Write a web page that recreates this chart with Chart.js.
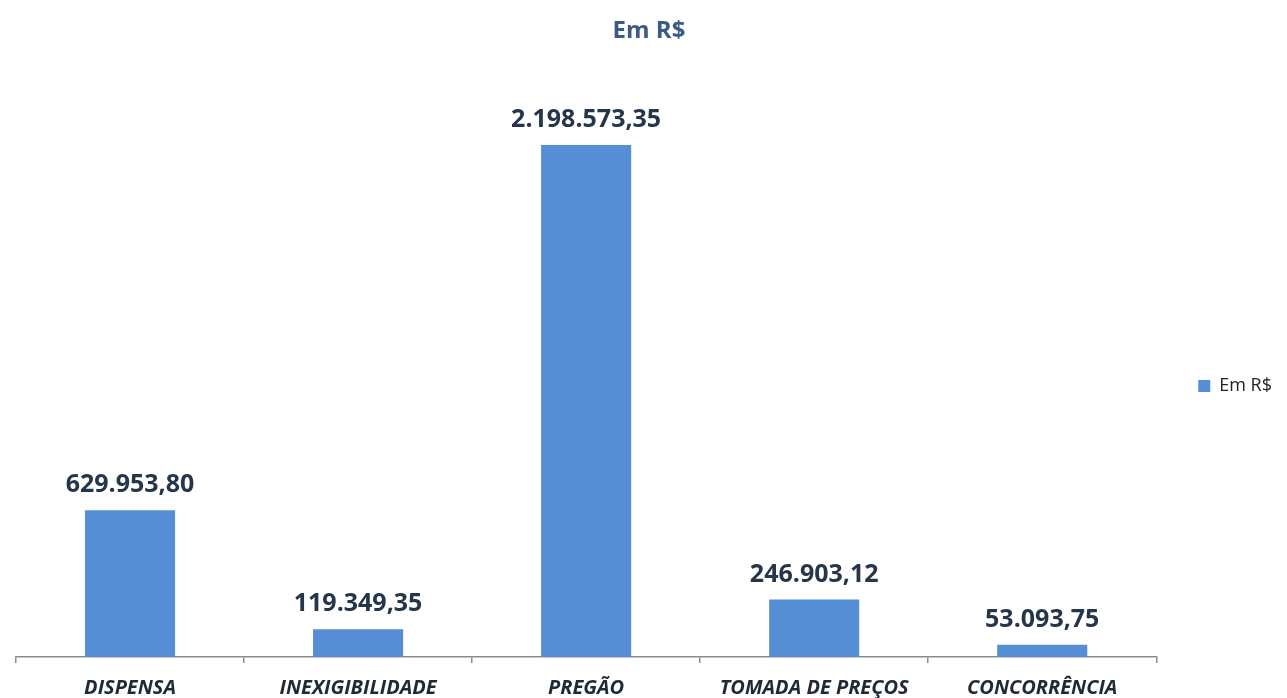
<!DOCTYPE html>
<html>
<head>
<meta charset="utf-8">
<script src="https://cdn.jsdelivr.net/npm/chart.js@4"></script>
<style>
  html, body { margin: 0; padding: 0; background: #ffffff; }
  #wrap { width: 1287px; height: 698px; }
</style>
</head>
<body>
<div id="wrap"><canvas id="chart"></canvas></div>
<script>
// dados do gráfico
const categories = ["DISPENSA", "INEXIGIBILIDADE", "PREGÃO", "TOMADA DE PREÇOS", "CONCORRÊNCIA"];
const values = [629953.80, 119349.35, 2198573.35, 246903.12, 53093.75];
const seriesName = "Em R$";

const barColor = "#558ed5";
const labelColor = "#26364a";
const axisColor = "#8a8a8a";

// formato brasileiro: 1.234.567,89
function formatBR(v) {
  const parts = v.toFixed(2).split(".");
  const intPart = parts[0].replace(/\B(?=(\d{3})+(?!\d))/g, ".");
  return intPart + "," + parts[1];
}

// rótulos de valor acima das barras
const valueLabels = {
  id: "valueLabels",
  afterDatasetsDraw(chart) {
    const ctx = chart.ctx;
    const meta = chart.getDatasetMeta(0);
    ctx.save();
    ctx.font = "bold 25px 'Open Sans'";
    ctx.fillStyle = labelColor;
    ctx.textAlign = "center";
    ctx.textBaseline = "alphabetic";
    meta.data.forEach((bar, i) => {
      ctx.fillText(formatBR(values[i]), bar.x, bar.y - 18);
    });
    ctx.restore();
  }
};

new Chart(document.getElementById("chart"), {
  type: "bar",
  data: {
    labels: categories,
    datasets: [
      {
        label: seriesName,
        data: values,
        backgroundColor: barColor,
        borderWidth: 0,
        categoryPercentage: 1,
        barPercentage: 0.395
      }
    ]
  },
  options: {
    responsive: true,
    maintainAspectRatio: false,
    animation: false,
    layout: {
      padding: { left: 16, right: 5, top: 0, bottom: 0 }
    },
    plugins: {
      title: {
        display: true,
        text: seriesName,
        color: "#3d5a85",
        font: { family: "'Open Sans'", size: 24, weight: "bold" },
        padding: { top: 17, bottom: 29 }
      },
      legend: {
        position: "right",
        title: {
          display: true,
          text: " ",
          font: { size: 1 },
          padding: { top: 73, bottom: 0 }
        },
        labels: {
          boxWidth: 12,
          boxHeight: 12,
          padding: 10,
          color: "#222222",
          font: { family: "'Open Sans'", size: 18 }
        }
      },
      tooltip: { enabled: false }
    },
    scales: {
      x: {
        grid: {
          display: true,
          drawOnChartArea: false,
          drawTicks: true,
          tickLength: 6,
          color: axisColor,
          lineWidth: 1.5
        },
        border: { display: true, color: axisColor, width: 1.5 },
        ticks: {
          color: "#1f2a36",
          padding: 13,
          maxRotation: 0,
          autoSkip: false,
          font: { family: "'Open Sans'", size: 20, weight: "bold", style: "italic" }
        },
        afterFit: (scale) => { scale.height = 41; }
      },
      y: {
        position: "right",
        min: 0,
        max: 2500000,
        grid: { display: false },
        border: { display: false },
        ticks: { display: false },
        afterFit: (scale) => { scale.width = 32; }
      }
    }
  },
  plugins: [valueLabels]
});
</script>
</body>
</html>
